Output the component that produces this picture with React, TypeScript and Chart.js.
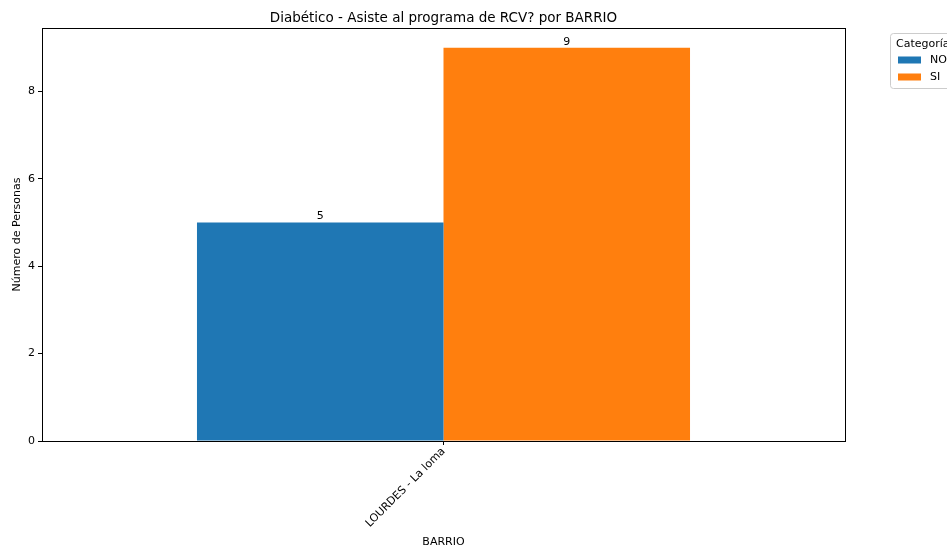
import React, { useEffect, useRef } from "react";
import { Chart, registerables } from "chart.js";

Chart.register(...registerables);

const categories = ["LOURDES - La loma"];
const seriesNames = ["NO", "SI"];
const noValues = [5];
const siValues = [9];
const yTicks = [0, 2, 4, 6, 8];
const colors = ["#1f77b4", "#ff7f0e"];
const titleText = "Diabético - Asiste al programa de RCV? por BARRIO";
const yTitle = "Número de Personas";
const xTitle = "BARRIO";
const legendTitle = "Categoría";

const FONT = "'DejaVu Sans', sans-serif";

const customPlugin = {
  id: "custom",
  afterDraw(chart: any) {
    const ctx = chart.ctx;
    const a = chart.chartArea;
    ctx.save();
    // frame
    ctx.strokeStyle = "#000";
    ctx.lineWidth = 1;
    ctx.strokeRect(Math.round(a.left) + 0.5, Math.round(a.top) + 0.5, Math.round(a.right - a.left), Math.round(a.bottom - a.top));
    // title
    ctx.fillStyle = "#000";
    ctx.font = `13.5px ${FONT}`;
    ctx.textAlign = "center";
    ctx.textBaseline = "alphabetic";
    ctx.fillText(titleText, (a.left + a.right) / 2, 22);
    // x title
    ctx.font = `11px ${FONT}`;
    ctx.textBaseline = "middle";
    ctx.fillText(xTitle, (a.left + a.right) / 2, 542);
    // y title
    ctx.save();
    ctx.translate(17, (a.top + a.bottom) / 2);
    ctx.rotate(-Math.PI / 2);
    ctx.fillText(yTitle, 0, 0);
    ctx.restore();
    // data labels
    ctx.textAlign = "center";
    ctx.textBaseline = "alphabetic";
    chart.data.datasets.forEach((ds: any, i: number) => {
      const meta = chart.getDatasetMeta(i);
      meta.data.forEach((bar: any, j: number) => {
        ctx.fillText(String(ds.data[j]), bar.x, bar.y - 3);
      });
    });
    // legend
    const lx = 890, ly = 33, lw = 80, lh = 55;
    ctx.fillStyle = "rgba(255,255,255,0.8)";
    ctx.strokeStyle = "#cccccc";
    ctx.beginPath();
    if ((ctx as any).roundRect) (ctx as any).roundRect(lx + 0.5, ly + 0.5, lw, lh, 3);
    else ctx.rect(lx + 0.5, ly + 0.5, lw, lh);
    ctx.fill();
    ctx.stroke();
    ctx.fillStyle = "#000";
    ctx.textAlign = "left";
    ctx.textBaseline = "middle";
    ctx.fillText(legendTitle, 896, 44);
    seriesNames.forEach((n, i) => {
      const y = 60 + i * 17;
      ctx.fillStyle = colors[i];
      ctx.fillRect(898, y - 3.5, 23, 7);
      ctx.fillStyle = "#000";
      ctx.fillText(n, 930, y);
    });
    ctx.restore();
  },
};

export default function App() {
  const ref = useRef<HTMLCanvasElement>(null);
  useEffect(() => {
    document.body.style.margin = "0";
    const chart = new Chart(ref.current!, {
      type: "bar",
      data: {
        labels: categories,
        datasets: [
          { label: seriesNames[0], data: noValues, backgroundColor: colors[0] },
          { label: seriesNames[1], data: siValues, backgroundColor: colors[1] },
        ],
      },
      options: {
        animation: false,
        responsive: false,
        devicePixelRatio: 1,
        layout: { padding: { top: 28, right: 102, left: 0, bottom: 0 } },
        datasets: { bar: { categoryPercentage: 0.614, barPercentage: 1 } },
        plugins: { legend: { display: false }, title: { display: false }, tooltip: { enabled: false } },
        scales: {
          x: {
            grid: { display: true, offset: false, drawOnChartArea: false, drawTicks: true, tickLength: 4, color: "#000" },
            border: { display: true, color: "#000" },
            ticks: { color: "#000", font: { family: FONT, size: 11 }, minRotation: 45, maxRotation: 45, padding: 0 },
            title: { display: false },
            afterFit: (s: any) => { s.height = 106; },
          },
          y: {
            min: 0,
            max: 9.45,
            afterBuildTicks: (s: any) => { s.ticks = yTicks.map((v) => ({ value: v })); },
            grid: { display: true, drawOnChartArea: false, drawTicks: true, tickLength: 4, color: "#000" },
            border: { display: true, color: "#000" },
            ticks: { color: "#000", font: { family: FONT, size: 11 }, padding: 3 },
            title: { display: false },
            afterFit: (s: any) => { s.width = 42; },
          },
        },
      },
      plugins: [customPlugin],
    });
    return () => chart.destroy();
  }, []);
  return (
    <div style={{ width: 947, height: 547 }}>
      <canvas ref={ref} width={947} height={547} style={{ display: "block" }} />
    </div>
  );
}
